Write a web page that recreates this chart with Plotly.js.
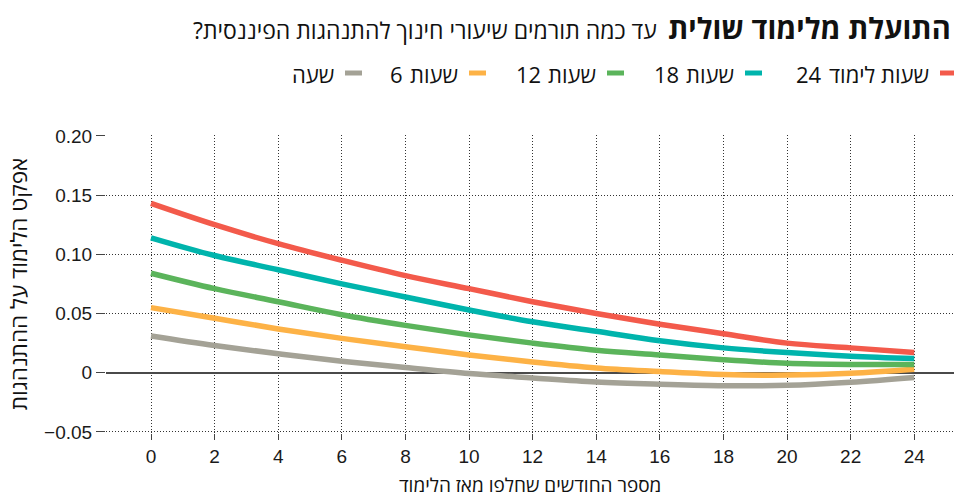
<!DOCTYPE html>
<html>
<head>
<meta charset="utf-8">
<script src="https://cdn.plot.ly/plotly-3.0.1.min.js"></script>
<style>html,body{margin:0;padding:0;background:#fff;}</style>
</head>
<body>
<div id="chart" style="width:954px;height:498px;"></div>
<script>
// ---- data ----
const months = [0, 2, 4, 6, 8, 10, 12, 14, 16, 18, 20, 22, 24];
const seriesNames = ["24 שעות לימוד", "18 שעות", "12 שעות", "6 שעות", "שעה"];
const hours24 = [0.143, 0.125, 0.109, 0.095, 0.082, 0.071, 0.060, 0.050, 0.041, 0.033, 0.025, 0.021, 0.017];
const hours18 = [0.114, 0.099, 0.087, 0.075, 0.064, 0.053, 0.043, 0.035, 0.027, 0.021, 0.017, 0.014, 0.012];
const hours12 = [0.084, 0.071, 0.060, 0.049, 0.040, 0.032, 0.025, 0.019, 0.015, 0.011, 0.008, 0.007, 0.007];
const hours6  = [0.055, 0.046, 0.037, 0.029, 0.022, 0.015, 0.009, 0.004, 0.001, -0.0015, -0.002, -0.0005, 0.003];
const hours1  = [0.031, 0.023, 0.016, 0.0097, 0.0044, -0.0007, -0.0044, -0.0078, -0.0097, -0.011, -0.0106, -0.008, -0.004];
const xTickVals = [0, 2, 4, 6, 8, 10, 12, 14, 16, 18, 20, 22, 24];
const yTickVals = [-0.05, 0, 0.05, 0.10, 0.15, 0.20];
const yTickText = ["\u22120.05", "0", "0.05", "0.10", "0.15", "0.20"];
const titleBold = "התועלת מלימוד שולית";
const titleRest = "עד כמה תורמים שיעורי חינוך להתנהגות הפיננסית?";
const xTitle = "מספר החודשים שחלפו מאז הלימוד";
const yTitle = "אפקט הלימוד על ההתנהגות";

// ---- style ----
const colors = ["#F35A4B", "#00B4AC", "#5BB45B", "#FDB246", "#A4A296"];
const allSeries = [hours24, hours18, hours12, hours6, hours1];
const HEB = "Open Sans, Liberation Sans, sans-serif";
const NUM = "Liberation Sans, Arial, sans-serif";
const LEG_SIZE = 22;

// plot area geometry (px)
const M = {l: 106, r: 0, t: 135, b: 65};
const W = 954, H = 498;
const PW = W - M.l - M.r, PH = H - M.t - M.b;
const px = x => (x - M.l) / PW;
const py = y => (H - M.b - y) / PH;

// legend layout (px): swatch left edges, row y
const legSwatchLeft = [938, 743, 605, 467, 343];
const legY = 73;

// text measurement for legend pieces (number drawn to the left of the words)
const ctx = document.createElement("canvas").getContext("2d");
ctx.font = LEG_SIZE + "px 'Open Sans'";
const textW = s => ctx.measureText(s).width;

const traces = allSeries.map((vals, i) => ({
  type: "scatter", mode: "lines",
  x: months, y: vals, name: seriesNames[i],
  line: {color: colors[i], width: 5.5, shape: "spline", smoothing: 1},
  showlegend: false, hoverinfo: "skip"
})).reverse();

const shapes = [];
const annotations = [];
seriesNames.forEach((name, i) => {
  const x0 = legSwatchLeft[i];
  shapes.push({type: "line", xref: "paper", yref: "paper",
    x0: px(x0 + 2), x1: px(x0 + 19), y0: py(legY), y1: py(legY),
    line: {color: colors[i], width: 5}});
  const m = name.match(/^(\d+) (.*)$/);
  const words = m ? m[2] : name;
  const right = x0 - 7;
  annotations.push({xref: "paper", yref: "paper", x: px(right), y: py(legY + 1),
    xanchor: "right", yanchor: "middle", showarrow: false, text: words,
    font: {family: HEB, size: LEG_SIZE, color: "#111"}});
  if (m) {
    const numRight = right - textW(words) - textW(" ") - 1;
    annotations.push({xref: "paper", yref: "paper", x: px(numRight), y: py(legY + 1),
      xanchor: "right", yanchor: "middle", showarrow: false, text: m[1],
      font: {family: HEB, size: LEG_SIZE, color: "#111"}});
  }
});
annotations.push({xref: "paper", yref: "paper", x: px(953), y: py(28),
  xanchor: "right", yanchor: "middle", showarrow: false,
  text: "<b>" + titleBold + "</b>",
  font: {family: HEB, size: 29, color: "#111"}});
annotations.push({xref: "paper", yref: "paper", x: px(659), y: py(30),
  xanchor: "right", yanchor: "middle", showarrow: false,
  text: titleRest + "\u200F",
  font: {family: HEB, size: 23, color: "#111"}});
annotations.push({xref: "paper", yref: "paper", x: 0.5, y: py(485),
  xanchor: "center", yanchor: "middle", showarrow: false,
  text: xTitle,
  font: {family: HEB, size: 19, color: "#111"}});

const layout = {
  width: W, height: H,
  margin: M,
  paper_bgcolor: "#fff", plot_bgcolor: "#fff",
  showlegend: false,
  xaxis: {
    range: [-1.415, 25.25], tickvals: xTickVals, ticktext: xTickVals.map(String),
    showgrid: true, gridcolor: "#333", gridwidth: 1, griddash: "1px,2px",
    zeroline: false, showline: false,
    ticks: "outside", ticklen: 6, tickwidth: 1, tickcolor: "#444",
    tickfont: {family: NUM, size: 19, color: "#1a1a1a"},
    fixedrange: true
  },
  yaxis: {
    range: [-0.0509, 0.2008], tickvals: yTickVals, ticktext: yTickText,
    showgrid: true, gridcolor: "#333", gridwidth: 1, griddash: "1px,2px",
    zeroline: true, zerolinecolor: "#4a4a4a", zerolinewidth: 2,
    showline: false,
    ticks: "outside", ticklen: 9, tickwidth: 1, tickcolor: "#444",
    tickfont: {family: NUM, size: 19, color: "#1a1a1a"},
    title: {text: yTitle, font: {family: HEB, size: 22.5, color: "#111"}, standoff: 10},
    fixedrange: true
  },
  shapes: shapes,
  annotations: annotations
};

Plotly.newPlot("chart", traces, layout, {displayModeBar: false, staticPlot: true});
</script>
</body>
</html>
